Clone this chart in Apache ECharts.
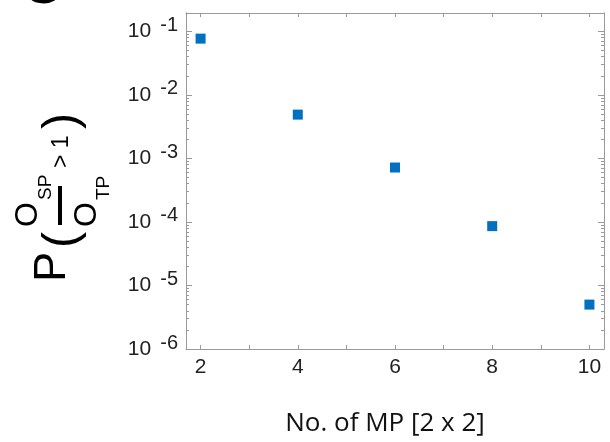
<!DOCTYPE html>
<html>
<head>
<meta charset="utf-8">
<script src="https://cdn.jsdelivr.net/npm/echarts@6/dist/echarts.min.js"></script>
<style>
  html, body { margin: 0; padding: 0; background: #fff; }
  #chart { width: 610px; height: 442px; }
</style>
</head>
<body>
<div id="chart"></div>
<script>
// number of MP blocks vs probability P(O_SP/O_TP > 1)
var mpCount = [2, 4, 6, 8, 10];
var probValues = [0.077, 0.0049, 0.00072, 0.000086, 0.0000050];

var xTickValues = [2, 3, 4, 5, 6, 7, 8, 9, 10];
var xLabelValues = [2, 4, 6, 8, 10];
var yExponents = [-6, -5, -4, -3, -2, -1];

var yMin = 1e-6;
var yMax = 0.195;

var yMajor = yExponents.map(function (e) { return Math.pow(10, e); });
var yMinor = [];
yExponents.forEach(function (e) {
    for (var m = 2; m <= 9; m++) {
        var v = m * Math.pow(10, e);
        if (v < yMax) yMinor.push(v);
    }
});

var frameColor = '#9a9a9a';
var labelFont = '"Liberation Sans", Arial, sans-serif';

function expLabel(v) {
    var e = Math.round(Math.log10(v));
    return '{b|10}{e|' + e + '}';
}

function yAxisDef(pos, ticks, len, showLabel) {
    return {
        type: 'log',
        logBase: 10,
        position: pos,
        min: yMin,
        max: yMax,
        axisLine: { show: true, lineStyle: { color: frameColor, width: 1 } },
        splitLine: { show: false },
        axisTick: { show: true, inside: true, length: len, customValues: ticks, lineStyle: { color: frameColor } },
        axisLabel: {
            show: showLabel,
            customValues: yMajor,
            margin: 8,
            formatter: expLabel,
            rich: {
                b: { fontSize: 21, fontFamily: labelFont, color: '#222', lineHeight: 32, verticalAlign: 'middle' },
                e: { fontSize: 20, fontFamily: labelFont, color: '#222', lineHeight: 20, verticalAlign: 'top', padding: [0, 0, 0, 9] }
            }
        }
    };
}

function xAxisDef(pos, showLabel) {
    return {
        type: 'value',
        position: pos,
        min: 1.7,
        max: 10.3,
        axisLine: { show: true, onZero: false, lineStyle: { color: frameColor, width: 1 } },
        splitLine: { show: false },
        axisTick: { show: true, inside: true, length: 4, customValues: xTickValues, lineStyle: { color: frameColor } },
        axisLabel: {
            show: showLabel,
            customValues: xLabelValues,
            margin: 8,
            fontSize: 21,
            fontFamily: labelFont,
            color: '#222'
        }
    };
}

var chart = echarts.init(document.getElementById('chart'));

var xBottom = xAxisDef('bottom', true);
xBottom.name = 'No. of MP [2 x 2]';
xBottom.nameLocation = 'middle';
xBottom.nameGap = 62;
xBottom.nameTextStyle = { fontSize: 26, fontFamily: '"Open Sans", sans-serif', color: '#111', padding: [0, 20, 0, 0] };

var bigFont = '"Liberation Sans", Arial, sans-serif';

chart.setOption({
    animation: false,
    backgroundColor: '#fff',
    grid: { left: 186, right: 6, top: 13, bottom: 88 },
    xAxis: [xBottom, xAxisDef('top', false)],
    yAxis: [
        yAxisDef('left', yMajor, 6, true),
        yAxisDef('left', yMinor, 3, false),
        yAxisDef('right', yMajor, 6, false),
        yAxisDef('right', yMinor, 3, false)
    ],
    graphic: [
        {
            type: 'text',
            left: 22,
            top: -40,
            style: { text: 'C', font: 'bold 56px ' + bigFont, fill: '#000' }
        },
        {
            // rotated y axis title, reads bottom to top
            type: 'group',
            x: 60,
            y: 280,
            rotation: Math.PI / 2,
            children: [
                { type: 'text', x: -2, y: -7, style: { text: 'P', font: '45px ' + bigFont, fill: '#000', align: 'left', verticalAlign: 'middle' } },
                { type: 'text', x: 32, y: 3, style: { text: '(', font: '48px ' + bigFont, fill: '#000', align: 'left', verticalAlign: 'middle' } },
                { type: 'text', x: 53, y: -32, style: { text: 'O', font: '32px ' + bigFont, fill: '#000', align: 'left', verticalAlign: 'middle' } },
                { type: 'text', x: 80, y: -14, style: { text: 'SP', font: '19px ' + bigFont, fill: '#000', align: 'left', verticalAlign: 'middle' } },
                { type: 'rect', shape: { x: 55, y: -2, width: 39, height: 4 }, style: { fill: '#000' } },
                { type: 'text', x: 53, y: 27, style: { text: 'O', font: '32px ' + bigFont, fill: '#000', align: 'left', verticalAlign: 'middle' } },
                { type: 'text', x: 80, y: 44, style: { text: 'TP', font: '19px ' + bigFont, fill: '#000', align: 'left', verticalAlign: 'middle' } },
                { type: 'text', x: 112, y: 2, style: { text: '> 1', font: '23px ' + bigFont, fill: '#000', align: 'left', verticalAlign: 'middle' } },
                { type: 'text', x: 151, y: 3, style: { text: ')', font: '48px ' + bigFont, fill: '#000', align: 'left', verticalAlign: 'middle' } }
            ]
        }
    ],
    series: [{
        type: 'scatter',
        xAxisIndex: 0,
        yAxisIndex: 0,
        symbol: 'rect',
        symbolSize: 10,
        itemStyle: { color: '#0070c0', opacity: 1 },
        data: mpCount.map(function (x, i) { return [x, probValues[i]]; })
    }]
});
</script>
</body>
</html>
